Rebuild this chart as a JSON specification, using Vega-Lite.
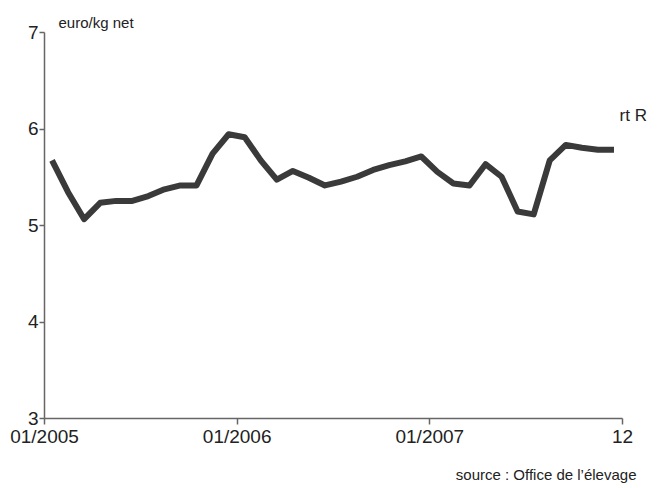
{
  "$schema": "https://vega.github.io/schema/vega-lite/v6.json",
  "width": 578,
  "height": 386,
  "autosize": "none",
  "padding": {"left": 44, "top": 32, "right": 39, "bottom": 70},
  "background": "white",
  "config": {
    "view": {"stroke": null},
    "font": "Liberation Sans"
  },
  "title": {
    "text": "rt R",
    "anchor": "end",
    "orient": "top",
    "offset": 0,
    "baseline": "middle",
    "dy": 118,
    "dx": 11,
    "fontSize": 17,
    "fontWeight": "normal",
    "color": "#222"
  },
  "data": {
    "values": [
      {"month": 0.5, "price": 5.67},
      {"month": 1.5, "price": 5.34},
      {"month": 2.5, "price": 5.06},
      {"month": 3.5, "price": 5.23},
      {"month": 4.5, "price": 5.25},
      {"month": 5.5, "price": 5.25},
      {"month": 6.5, "price": 5.30},
      {"month": 7.5, "price": 5.37},
      {"month": 8.5, "price": 5.41},
      {"month": 9.5, "price": 5.41},
      {"month": 10.5, "price": 5.74},
      {"month": 11.5, "price": 5.94},
      {"month": 12.5, "price": 5.91},
      {"month": 13.5, "price": 5.67},
      {"month": 14.5, "price": 5.47},
      {"month": 15.5, "price": 5.56},
      {"month": 16.5, "price": 5.49},
      {"month": 17.5, "price": 5.41},
      {"month": 18.5, "price": 5.45},
      {"month": 19.5, "price": 5.50},
      {"month": 20.5, "price": 5.57},
      {"month": 21.5, "price": 5.62},
      {"month": 22.5, "price": 5.66},
      {"month": 23.5, "price": 5.71},
      {"month": 24.5, "price": 5.55},
      {"month": 25.5, "price": 5.43},
      {"month": 26.5, "price": 5.41},
      {"month": 27.5, "price": 5.63},
      {"month": 28.5, "price": 5.50},
      {"month": 29.5, "price": 5.14},
      {"month": 30.5, "price": 5.11},
      {"month": 31.5, "price": 5.67},
      {"month": 32.5, "price": 5.83},
      {"month": 33.5, "price": 5.80},
      {"month": 34.5, "price": 5.78},
      {"month": 35.5, "price": 5.78}
    ]
  },
  "mark": {"type": "line", "color": "#3a3a3a", "strokeWidth": 6, "strokeJoin": "round"},
  "encoding": {
    "x": {
      "field": "month",
      "type": "quantitative",
      "scale": {"domain": [0, 36], "nice": false, "zero": false},
      "axis": {
        "values": [0, 12, 24, 36],
        "labelExpr": "datum.value == 0 ? '01/2005' : datum.value == 12 ? '01/2006' : datum.value == 24 ? '01/2007' : '12'",
        "grid": false,
        "domainColor": "#666",
        "domainWidth": 1.5,
        "tickColor": "#666",
        "tickWidth": 1.5,
        "tickSize": 6,
        "labelFontSize": 19,
        "labelColor": "#222",
        "labelPadding": 3,
        "labelFlush": false,
        "labelOverlap": false,
        "title": "source : Office de l’élevage",
        "titleFontSize": 15,
        "titleFontWeight": "normal",
        "titleColor": "#222",
        "titleAnchor": "end",
        "titleAlign": "right",
        "titleBaseline": "middle",
        "titleX": 592,
        "titleY": 56
      }
    },
    "y": {
      "field": "price",
      "type": "quantitative",
      "scale": {"domain": [3, 7], "nice": false, "zero": false},
      "axis": {
        "values": [3, 4, 5, 6, 7],
        "grid": false,
        "domainColor": "#666",
        "domainWidth": 1.5,
        "tickColor": "#666",
        "tickWidth": 1.5,
        "tickSize": 5,
        "labelFontSize": 19,
        "labelColor": "#222",
        "labelPadding": 1,
        "title": "euro/kg net",
        "titleAngle": 0,
        "titleFontSize": 15,
        "titleFontWeight": "normal",
        "titleColor": "#222",
        "titleAlign": "left",
        "titleBaseline": "middle",
        "titleX": 14,
        "titleY": -10
      }
    }
  }
}
